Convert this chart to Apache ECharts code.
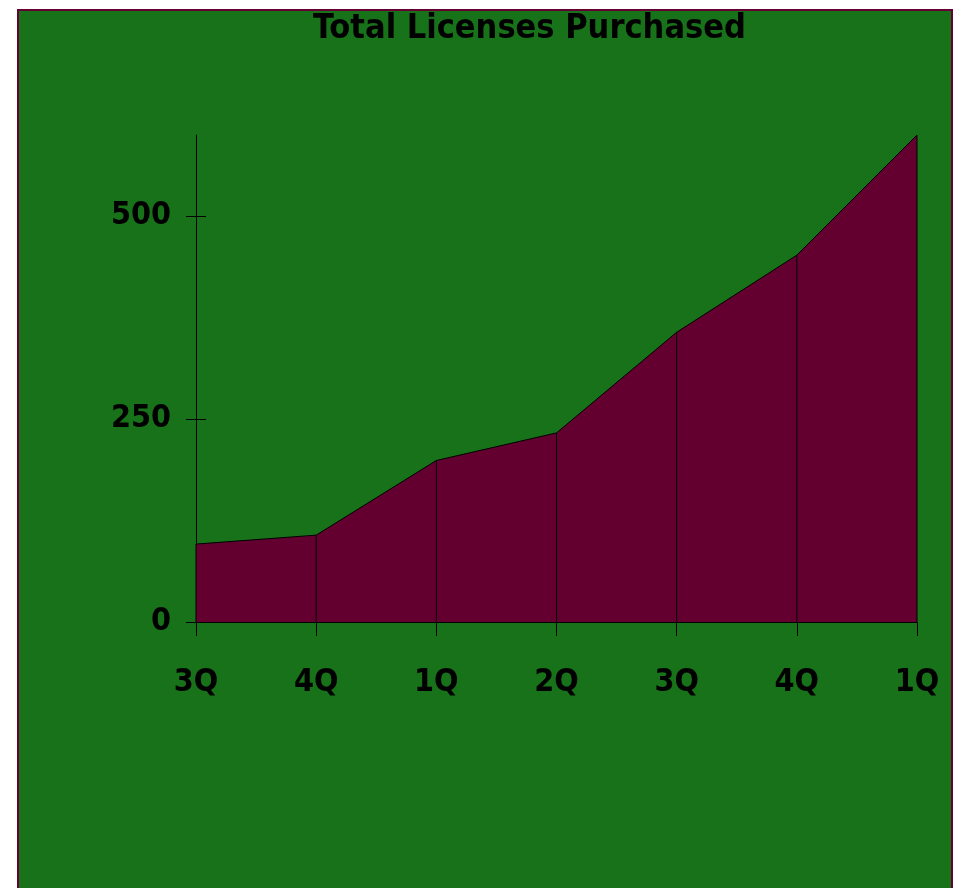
<!DOCTYPE html>
<html>
<head>
<meta charset="utf-8">
<script src="https://cdn.jsdelivr.net/npm/echarts@6/dist/echarts.min.js"></script>
<style>
  body { margin: 0; background: #fff; }
  #licenseArea {
    position: absolute; left: 17px; top: 9px;
    width: 932px; height: 880px;
    border: 2px solid #660033;
  }
</style>
</head>
<body>
<div id="licenseArea"></div>
<script>
var quarters = ['3Q', '4Q', '1Q', '2Q', '3Q', '4Q', '1Q'];
var licenses = [96, 107, 199, 233, 357, 452, 600];
var yTickValues = [0, 250, 500];
var yMin = 0, yMax = 600;

var fontFam = '"Liberation Sans Narrow", "DejaVu Sans Condensed", "Arial Narrow", sans-serif';
var green = '#187219';
var maroon = '#630030';

var myChart = echarts.init(document.getElementById('licenseArea'));

var option = {
  backgroundColor: green,
  animation: false,
  title: {
    text: 'Total Licenses Purchased',
    left: 294,
    top: 1,
    padding: 0,
    textStyle: { color: '#000', fontFamily: fontFam, fontWeight: 'bold', fontSize: 34 }
  },
  grid: { left: 177, right: 34, top: 124, bottom: 269 },
  xAxis: {
    type: 'category',
    data: quarters,
    boundaryGap: false,
    axisLine: { lineStyle: { color: '#000', width: 1 } },
    axisTick: { length: 14, lineStyle: { color: '#000' } },
    axisLabel: { color: '#000', fontFamily: fontFam, fontWeight: 'bold', fontSize: 32, margin: 45 },
    splitLine: { show: false }
  },
  yAxis: [{
    type: 'value',
    min: yMin, max: yMax,
    axisLine: { show: true, lineStyle: { color: '#000', width: 1 } },
    axisTick: { show: true, length: 10, customValues: yTickValues, lineStyle: { color: '#000' } },
    axisLabel: { color: '#000', fontFamily: fontFam, fontWeight: 'bold', fontSize: 32, margin: 25,
      padding: [6, 0, 0, 0], customValues: yTickValues },
    splitLine: { show: false }
  }, {
    // inner half of the crossing y ticks
    type: 'value', position: 'left',
    min: yMin, max: yMax,
    axisLine: { show: false },
    axisTick: { show: true, inside: true, length: 10, customValues: yTickValues, lineStyle: { color: '#000' } },
    axisLabel: { show: false },
    splitLine: { show: false }
  }],
  series: [{
    type: 'line',
    data: licenses,
    symbol: 'none',
    lineStyle: { color: '#000', width: 1 },
    areaStyle: { color: maroon, opacity: 1 },
    z: 2
  }, {
    // vertical drop lines at each quarter
    type: 'bar',
    data: licenses,
    barWidth: 1,
    itemStyle: { color: '#000' },
    z: 3
  }]
};

myChart.setOption(option);
</script>
</body>
</html>
